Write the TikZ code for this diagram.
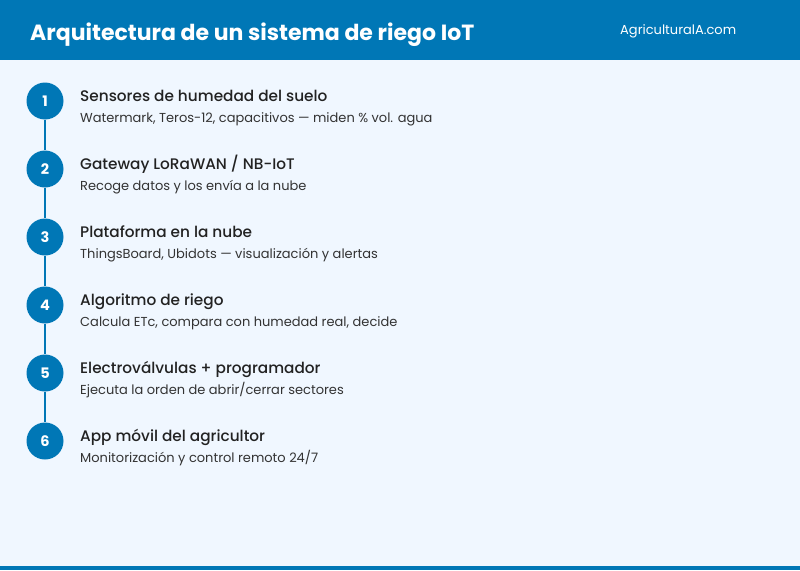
\documentclass[tikz,border=0pt]{standalone}
\usepackage{fontspec}
\setmainfont{Poppins}
\newfontfamily\popbold{Poppins Bold}
\newfontfamily\popmed{Poppins Medium}
\definecolor{hdr}{HTML}{0077B6}
\definecolor{bg}{HTML}{F0F7FF}
\definecolor{ttl}{HTML}{222222}
\definecolor{sub}{HTML}{333333}
\tikzset{
  numcirc/.style={circle,fill=hdr,minimum size=37pt,inner sep=0pt,text=white,font=\popbold\fontsize{14.5}{16}\selectfont},
  steptitle/.style={anchor=base west,inner sep=0pt,text=ttl,font=\popmed\fontsize{15.3}{18}\selectfont},
  stepsub/.style={anchor=base west,inner sep=0pt,text=sub,font=\fontsize{13}{15}\selectfont},
  link/.style={draw=hdr,line width=2pt}
}
\begin{document}
\begin{tikzpicture}[x=1pt,y=-1pt]
\useasboundingbox (0,0) rectangle (800,570);
\fill[bg] (0,0) rectangle (800,570);
\fill[hdr] (0,0) rectangle (800,60);
\fill[hdr] (0,566) rectangle (800,570);
\node[anchor=base west,inner sep=0pt,text=white,font=\popbold\fontsize{22}{26}\selectfont] (title) at (30,40) {Arquitectura de un sistema de riego IoT};
\node[anchor=base west,inner sep=0pt,text=white,font=\fontsize{13}{15}\selectfont] (site) at (620,34) {AgriculturalA.com};
\foreach \i/\t/\s in {
 1/{Sensores de humedad del suelo}/{Watermark, Teros-12, capacitivos — miden \% vol. agua},
 2/{Gateway LoRaWAN / NB-IoT}/{Recoge datos y los envía a la nube},
 3/{Plataforma en la nube}/{ThingsBoard, Ubidots — visualización y alertas},
 4/{Algoritmo de riego}/{Calcula ETc, compara con humedad real, decide},
 5/{Electroválvulas + programador}/{Ejecuta la orden de abrir/cerrar sectores},
 6/{App móvil del agricultor}/{Monitorización y control remoto 24/7}} {
  \pgfmathsetmacro\yy{101+68*(\i-1)}
  \node[numcirc] (c\i) at (45,\yy) {\i};
  \node[steptitle] (t\i) at (80,\yy+0.5) {\t};
  \node[stepsub] (s\i) at (80,\yy+21) {\s};
}
\foreach \a/\b in {1/2,2/3,3/4,4/5,5/6} \draw[link] (c\a) -- (c\b);
\end{tikzpicture}
\end{document}
